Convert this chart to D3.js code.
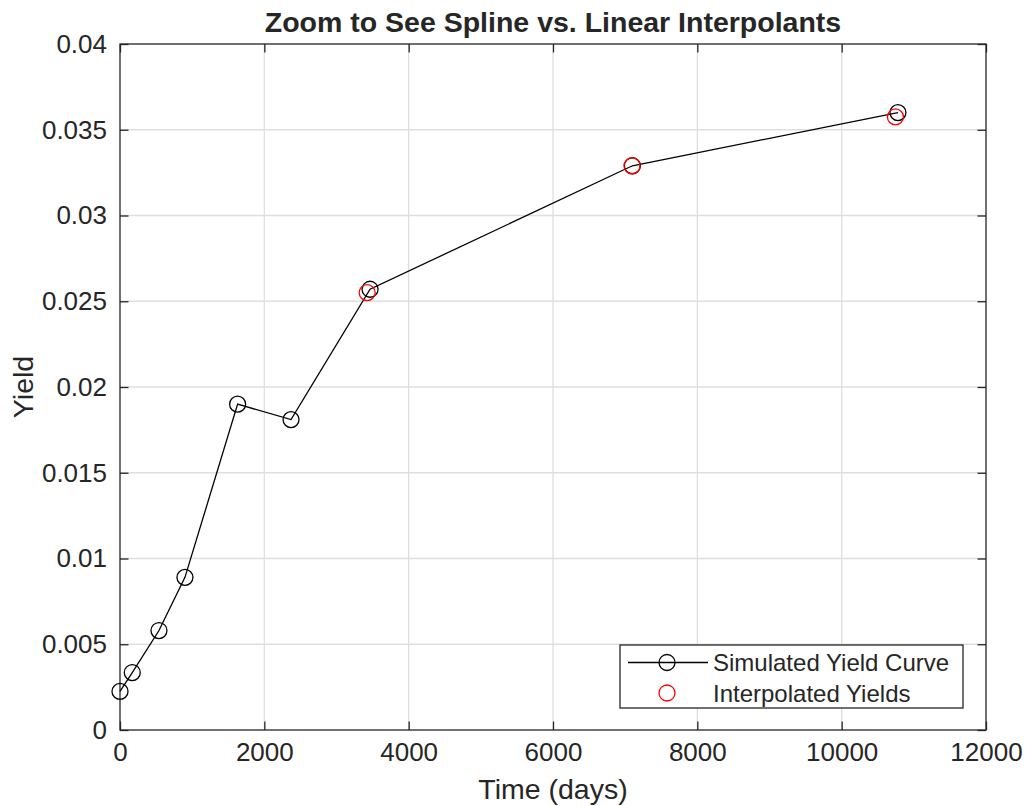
<!DOCTYPE html>
<html>
<head>
<meta charset="utf-8">
<script src="https://cdn.jsdelivr.net/npm/d3@7"></script>
<style>
body { margin: 0; background: #fff; }
svg text { font-family: "Liberation Sans", Arial, Helvetica, sans-serif; fill: #262626; }
.grid line { stroke: #dfdfdf; stroke-width: 1.3; }
</style>
</head>
<body>
<svg id="chart" width="1026" height="806"></svg>
<script>
// simulated yield curve (black circles + line)
var times = [0, 170, 540, 900, 1630, 2370, 3465, 7100, 10780];
var yields = [0.00225, 0.00335, 0.0058, 0.0089, 0.0190, 0.0181, 0.0257, 0.0329, 0.0360];

// interpolated yields (red circles)
var interpTimes = [3425, 7095, 10745];
var interpYields = [0.0255, 0.0329, 0.03575];

var xTicks = [0, 2000, 4000, 6000, 8000, 10000, 12000];
var yTicks = [0, 0.005, 0.01, 0.015, 0.02, 0.025, 0.03, 0.035, 0.04];

var TITLE = "Zoom to See Spline vs. Linear Interpolants";
var X_LABEL = "Time (days)";
var Y_LABEL = "Yield";
var LEGEND_LABELS = ["Simulated Yield Curve", "Interpolated Yields"];

var margin = {left: 120, top: 44, right: 1026 - 986, bottom: 806 - 730};
var width = 1026 - margin.left - margin.right;
var height = 806 - margin.top - margin.bottom;
var AXIS_COLOR = "#262626";
var TICK_LEN = 8.5;
var MARKER_R = 8;
var TICK_FONT = "26px";
var LABEL_FONT = "28.5px";

var svg = d3.select("#chart");
var g = svg.append("g").attr("transform", "translate(" + margin.left + "," + margin.top + ")");

var x = d3.scaleLinear().domain([0, 12000]).range([0, width]);
var y = d3.scaleLinear().domain([0, 0.04]).range([height, 0]);

// grid
var grid = g.append("g").attr("class", "grid");
grid.selectAll("line.vx").data(xTicks.slice(1, -1)).enter().append("line")
	.attr("x1", function(d) { return x(d); }).attr("x2", function(d) { return x(d); })
	.attr("y1", 0).attr("y2", height);
grid.selectAll("line.hy").data(yTicks.slice(1, -1)).enter().append("line")
	.attr("y1", function(d) { return y(d); }).attr("y2", function(d) { return y(d); })
	.attr("x1", 0).attr("x2", width);

// axes, ticks pointing inward like matlab
function styleAxis(sel) {
	sel.select(".domain").remove();
	sel.selectAll(".tick line").attr("stroke", AXIS_COLOR).attr("stroke-width", 1.3);
	sel.selectAll(".tick text").style("font-size", TICK_FONT).attr("fill", AXIS_COLOR);
}

g.append("g").attr("transform", "translate(0," + height + ")")
	.call(d3.axisBottom(x).tickValues(xTicks).tickFormat(d3.format("d")).tickSizeInner(-TICK_LEN).tickPadding(13))
	.call(styleAxis);
g.append("g")
	.call(d3.axisTop(x).tickValues(xTicks).tickSizeInner(-TICK_LEN).tickFormat(""))
	.call(styleAxis);
g.append("g")
	.call(d3.axisLeft(y).tickValues(yTicks).tickFormat(function(d) { return d === 0 ? "0" : d3.format("")(+d.toFixed(3)); })
		.tickSizeInner(-TICK_LEN).tickPadding(13))
	.call(styleAxis);
g.append("g").attr("transform", "translate(" + width + ",0)")
	.call(d3.axisRight(y).tickValues(yTicks).tickSizeInner(-TICK_LEN).tickFormat(""))
	.call(styleAxis);

g.append("rect")
	.attr("width", width).attr("height", height)
	.attr("fill", "none").attr("stroke", AXIS_COLOR).attr("stroke-width", 1.3);

// data
var curve = times.map(function(t, i) { return {t: t, v: yields[i]}; });
var interp = interpTimes.map(function(t, i) { return {t: t, v: interpYields[i]}; });

var line = d3.line().x(function(d) { return x(d.t); }).y(function(d) { return y(d.v); });

g.append("path").datum(curve)
	.attr("d", line).attr("fill", "none").attr("stroke", "#000").attr("stroke-width", 1.3);

g.selectAll("circle.sim").data(curve).enter().append("circle")
	.attr("class", "sim")
	.attr("cx", function(d) { return x(d.t); }).attr("cy", function(d) { return y(d.v); })
	.attr("r", MARKER_R).attr("fill", "none").attr("stroke", "#000").attr("stroke-width", 1.3);

g.selectAll("circle.interp").data(interp).enter().append("circle")
	.attr("class", "interp")
	.attr("cx", function(d) { return x(d.t); }).attr("cy", function(d) { return y(d.v); })
	.attr("r", MARKER_R).attr("fill", "none").attr("stroke", "#ff0000").attr("stroke-width", 1.3);

// labels
svg.append("text").text(TITLE)
	.attr("x", margin.left + width / 2).attr("y", 32)
	.attr("text-anchor", "middle").style("font-size", LABEL_FONT).style("font-weight", "bold").attr("fill", "#000");
svg.append("text").text(X_LABEL)
	.attr("x", margin.left + width / 2).attr("y", 799)
	.attr("text-anchor", "middle").style("font-size", LABEL_FONT);
svg.append("text").text(Y_LABEL)
	.attr("transform", "translate(33," + (margin.top + height / 2) + ") rotate(-90)")
	.attr("text-anchor", "middle").style("font-size", LABEL_FONT);

// legend
var legend = svg.append("g").attr("transform", "translate(620,645)");
legend.append("rect").attr("width", 343).attr("height", 63)
	.attr("fill", "#fff").attr("stroke", AXIS_COLOR).attr("stroke-width", 1.3);
legend.append("line").attr("x1", 8).attr("x2", 88).attr("y1", 17.5).attr("y2", 17.5)
	.attr("stroke", "#000").attr("stroke-width", 1.3);
legend.append("circle").attr("cx", 47).attr("cy", 17.5).attr("r", MARKER_R)
	.attr("fill", "none").attr("stroke", "#000").attr("stroke-width", 1.3);
legend.append("circle").attr("cx", 47).attr("cy", 48).attr("r", MARKER_R)
	.attr("fill", "none").attr("stroke", "#ff0000").attr("stroke-width", 1.3);
legend.selectAll("text.lab").data(LEGEND_LABELS).enter().append("text")
	.attr("x", 93).attr("y", function(d, i) { return 26 + i * 30.5; })
	.style("font-size", "24px").text(function(d) { return d; });
</script>
</body>
</html>
